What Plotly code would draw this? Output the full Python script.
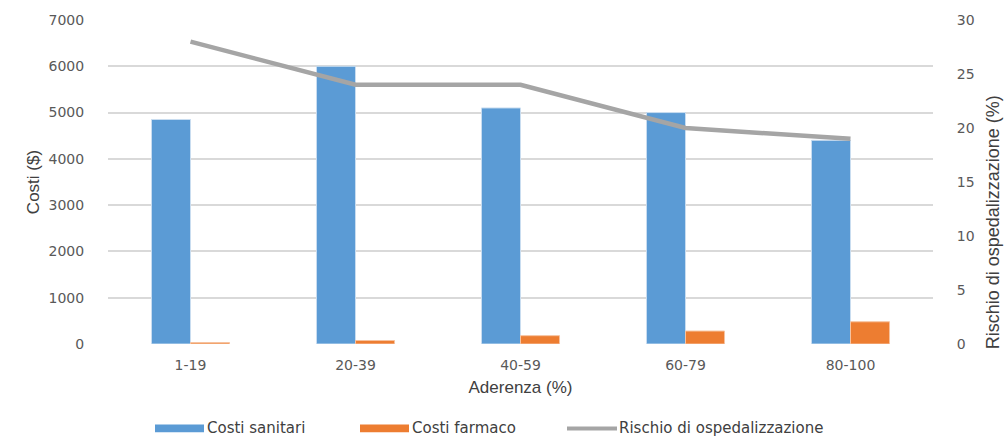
import plotly.graph_objects as go

categories = ["1-19", "20-39", "40-59", "60-79", "80-100"]
costi_sanitari = [4850, 6000, 5100, 5000, 4400]
costi_farmaco = [30, 75, 180, 280, 480]
rischio_ospedalizzazione = [28, 24, 24, 20, 19]

left_ticks = [0, 1000, 2000, 3000, 4000, 5000, 6000, 7000]
right_ticks = [0, 5, 10, 15, 20, 25, 30]

BLUE = "#5B9BD5"
ORANGE = "#ED7D31"
GRAY = "#A5A5A5"
TICK_FONT = dict(family="DejaVu Sans", size=14, color="#595959")
TITLE_FONT = dict(family="Liberation Sans Narrow, Liberation Sans", size=17, color="#404040")
LEGEND_FONT = dict(family="DejaVu Sans", size=15, color="#404040")

fig = go.Figure()
fig.add_trace(go.Bar(x=categories, y=costi_sanitari, name="Costi sanitari",
                     marker=dict(color=BLUE, line=dict(color="#C9DDF0", width=1))))
fig.add_trace(go.Bar(x=categories, y=costi_farmaco, name="Costi farmaco",
                     marker=dict(color=ORANGE, line=dict(color="#F6C3A0", width=1))))
fig.add_trace(go.Scatter(x=categories, y=rischio_ospedalizzazione, name="Rischio di ospedalizzazione",
                         mode="lines", line=dict(color=GRAY, width=4.5), yaxis="y2"))

fig.update_layout(
    width=1005, height=438,
    margin=dict(l=108, r=72, t=14, b=94),
    paper_bgcolor="white", plot_bgcolor="white",
    barmode="group", bargap=0.527, bargroupgap=0,
    showlegend=False,
    xaxis=dict(type="category", showgrid=False, showline=False, zeroline=False,
               tickfont=TICK_FONT, ticks="outside", ticklen=8, tickcolor="rgba(0,0,0,0)",
               title=dict(text="Aderenza (%)", font=TITLE_FONT, standoff=9)),
    yaxis=dict(range=[0, 7000], tickvals=left_ticks, showgrid=True, gridcolor="#D9D9D9",
               gridwidth=1.5, zeroline=False, showline=False, tickfont=TICK_FONT,
               ticks="outside", ticklen=20, tickcolor="rgba(0,0,0,0)",
               title=dict(text="Costi ($)", font=TITLE_FONT, standoff=4)),
    yaxis2=dict(range=[0, 30], tickvals=right_ticks, overlaying="y", side="right",
                showgrid=False, zeroline=False, showline=False, tickfont=TICK_FONT,
                ticks="outside", ticklen=20, tickcolor="rgba(0,0,0,0)"),
)

# Right axis title
fig.add_annotation(text="Rischio di ospedalizzazione (%)", textangle=-90,
                   xref="paper", yref="paper", x=1.072, y=0.377, xanchor="center", yanchor="middle",
                   showarrow=False, font=dict(TITLE_FONT, size=18))

# Legend drawn below the plot area
plot_h = 438 - 14 - 94
legend_items = [("Costi sanitari", BLUE, "bar", 155),
                ("Costi farmaco", ORANGE, "bar", 360),
                ("Rischio di ospedalizzazione", GRAY, "line", 567)]
for label, color, kind, x0 in legend_items:
    if kind == "bar":
        fig.add_shape(type="rect", xref="paper", yref="paper",
                      x0=(x0 - 108) / 825, x1=(x0 + 49 - 108) / 825,
                      y0=-(434 - 344) / plot_h, y1=-(426 - 344) / plot_h,
                      fillcolor=color, line=dict(width=0))
    else:
        fig.add_shape(type="line", xref="paper", yref="paper",
                      x0=(x0 - 108) / 825, x1=(x0 + 50 - 108) / 825,
                      y0=-(430 - 344) / plot_h, y1=-(430 - 344) / plot_h,
                      line=dict(color=color, width=4))
    fig.add_annotation(text=label, xref="paper", yref="paper",
                       x=(x0 + 50 - 108) / 825, y=-(430 - 344) / plot_h,
                       xanchor="left", yanchor="middle", showarrow=False, font=LEGEND_FONT)

fig.write_html("out.html")
